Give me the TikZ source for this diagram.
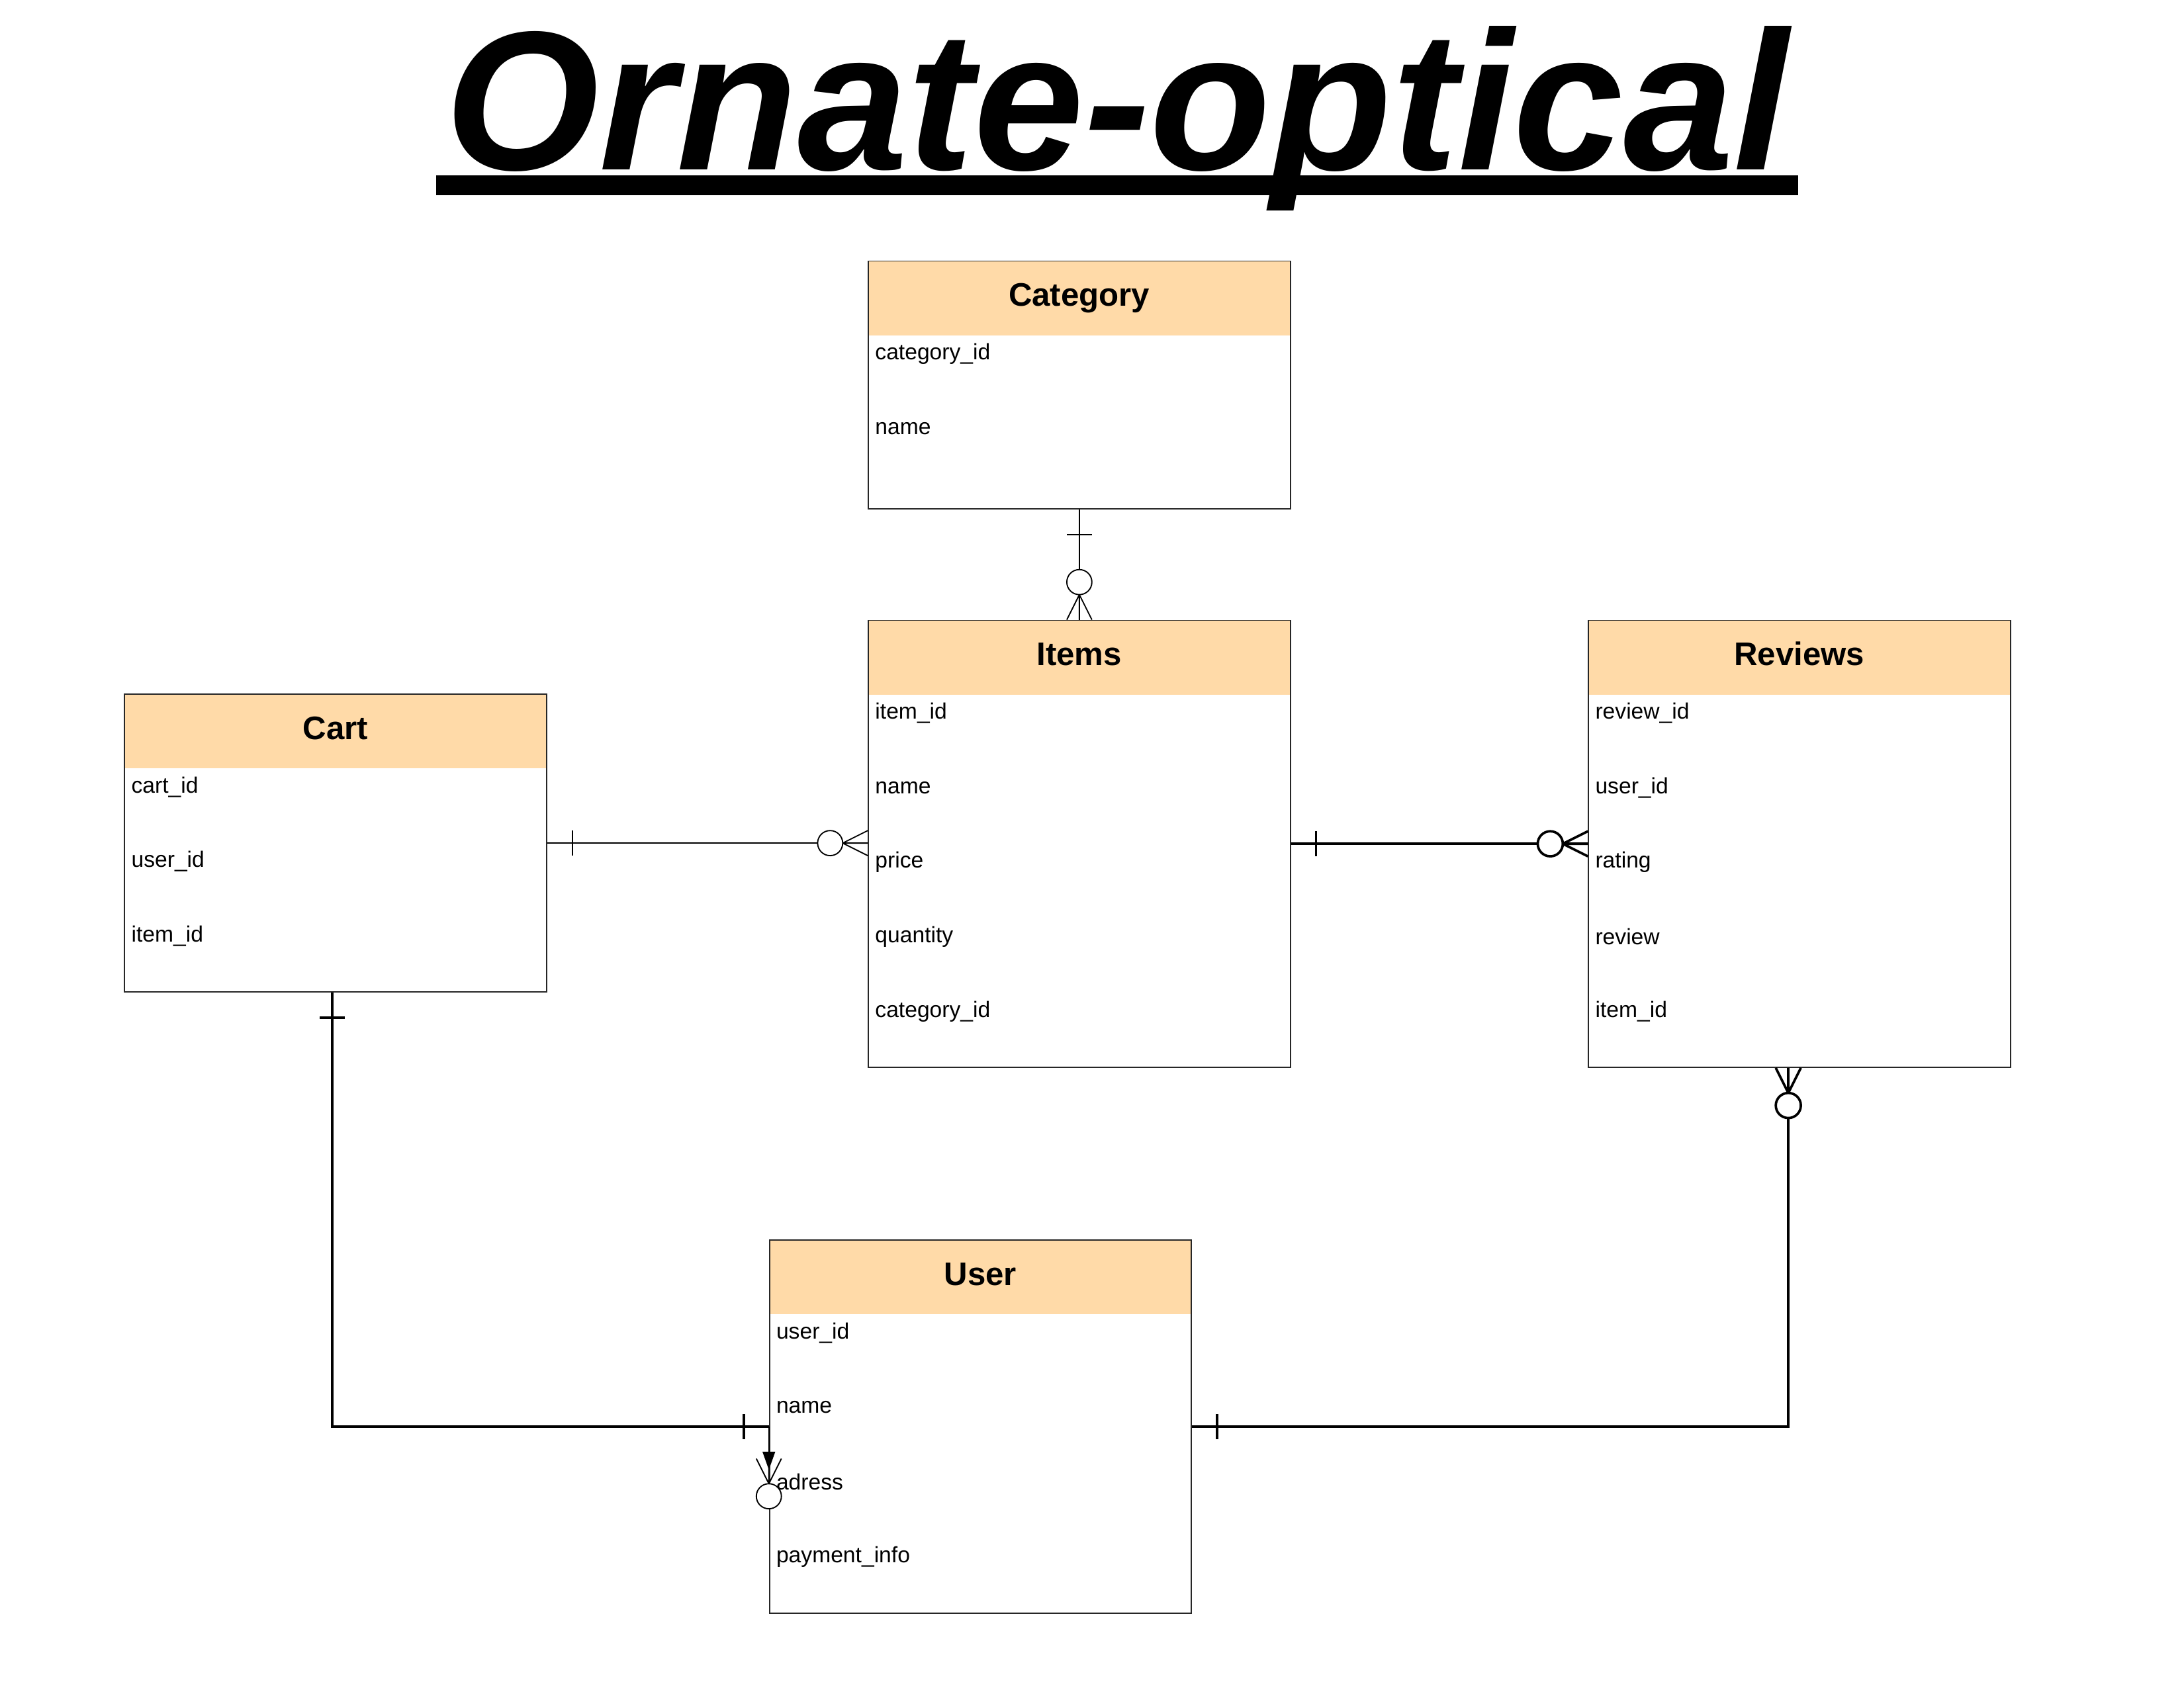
\documentclass[tikz,border=0pt]{standalone}
\usepackage{fontspec}
\setmainfont{Liberation Sans}
\usetikzlibrary{arrows.meta,calc}
\definecolor{peach}{HTML}{FFDAA8}

\tikzset{
  entity/.style={draw=black!85,line width=.5pt,minimum width=6.06cm,
    anchor=north west,inner sep=0pt},
  entityhead/.style={fill=peach,minimum width=6.06cm,minimum height=1.07cm,
    anchor=north west,inner sep=0pt,text height=10pt,text depth=3.3pt,
    font=\fontsize{13.3}{16}\selectfont\bfseries},
  field/.style={anchor=west,inner sep=0pt,font=\fontsize{9.1}{11}\selectfont},
  rel/.style={line width=.5pt},
  relthick/.style={line width=1pt},
  onebar/.pic={\draw (18,-9) -- (18,9);},
  zeromany/.pic={\draw (0,-9) -- (18,0) -- (0,9) (0,0) -- (18,0);
    \draw[fill=white] (27,0) circle[radius=9];}
}

\begin{document}
\begin{tikzpicture}[x=0.02cm,y=-0.02cm]
  \useasboundingbox (0,0) rectangle (1568,1212);

  % title
  \node[font=\fontsize{81}{90}\selectfont\bfseries\itshape,inner sep=0pt,
    anchor=base] (title) at (802,122) {Ornate-optical};
  \fill (313,126) rectangle (1291,140);

  % Category
  \node[entityhead] (cat-h) at (623,187) {Category};
  \node[entity,minimum height=3.56cm] (cat) at (623,187) {};
  \foreach \f [count=\i from 0] in {category\_id,name}
    \node[field] (cat-\i) at ($(cat-h.south west)+(5,13+53.5*\i)$) {\f};

  % Items
  \node[entityhead] (items-h) at (623,445) {Items};
  \node[entity,minimum height=6.42cm] (items) at (623,445) {};
  \foreach \f [count=\i from 0] in {item\_id,name,price,quantity,category\_id}
    \node[field] (items-\i) at ($(items-h.south west)+(5,13+53.5*\i)$) {\f};

  % Reviews
  \node[entityhead] (reviews-h) at (1140,445) {Reviews};
  \node[entity,minimum height=6.42cm] (reviews) at (1140,445) {};
  \foreach \f [count=\i from 0] in {review\_id,user\_id,rating,review,item\_id}
    \node[field] (reviews-\i) at ($(reviews-h.south west)+(5,13+53.5*\i)$) {\f};

  % Cart
  \node[entityhead] (cart-h) at (89,498) {Cart};
  \node[entity,minimum height=4.28cm] (cart) at (89,498) {};
  \foreach \f [count=\i from 0] in {cart\_id,user\_id,item\_id}
    \node[field] (cart-\i) at ($(cart-h.south west)+(5,13+53.5*\i)$) {\f};

  % User
  \node[entityhead] (user-h) at (552,890) {User};
  \node[entity,minimum height=5.36cm] (user) at (552,890) {};
  \foreach \f [count=\i from 0] in {user\_id,name,adress,payment\_info}
    \node[field] (user-\i) at ($(user-h.south west)+(5,13+53.5*\i)$) {\f};

  % relations
  \draw[rel] (cat) -- (items);
  \pic[rel,rotate=-90] at (cat.south) {onebar};
  \pic[rel,rotate=90] at (items.north) {zeromany};

  \draw[rel] (cart.east) -- (cart.east -| items.west);
  \pic[rel] at (cart.east) {onebar};
  \pic[rel,rotate=180] at (cart.east -| items.west) {zeromany};

  \draw[relthick] (items.east) -- (reviews.west);
  \pic[relthick] at (items.east) {onebar};
  \pic[relthick,rotate=180] at (reviews.west) {zeromany};

  \coordinate (cart-foot) at ($(cart.south)+(-2.5,0)$);
  \draw[relthick] (cart-foot) |- (user.west);
  \pic[relthick,rotate=-90] at (cart-foot) {onebar};
  \pic[relthick,rotate=180] at (user.west) {onebar};

  \coordinate (rv-foot) at ($(reviews.south)+(-8,0)$);
  \draw[relthick] (user.east) -| (rv-foot);
  \pic[relthick] at (user.east) {onebar};
  \pic[relthick,rotate=-90] at (rv-foot) {zeromany};

  \coordinate (u-stub) at ($(user.west)+(0,31)$);
  \pic[rel,rotate=-90] at ($(user.west)+(0,23)$) {zeromany};
  \draw[rel,-{Triangle[length=.26cm,width=.18cm]}] (user.west) -- (u-stub);
\end{tikzpicture}
\end{document}
